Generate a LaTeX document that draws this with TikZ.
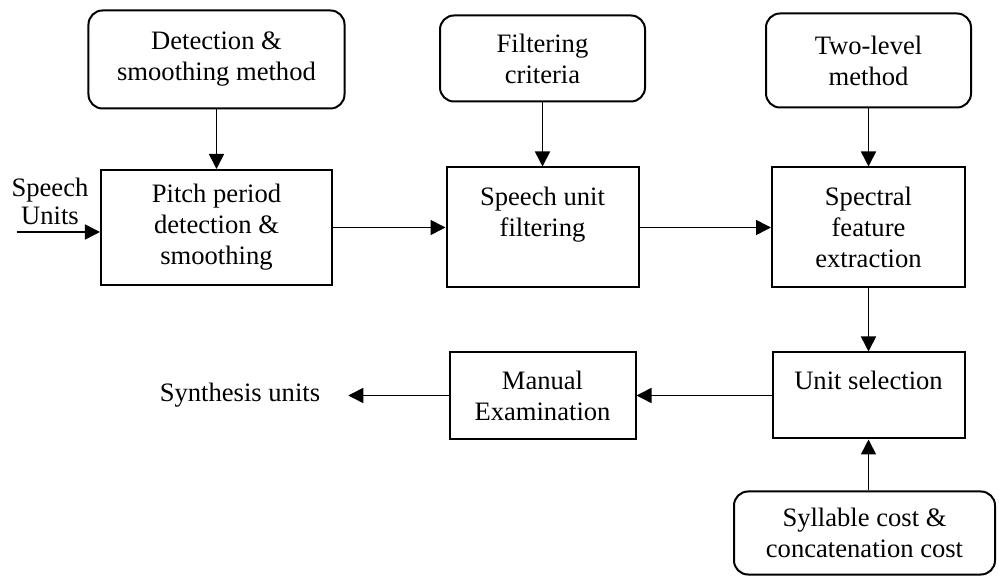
\documentclass[tikz,border=0pt]{standalone}
\usepackage{fontspec}
\setmainfont{Liberation Serif}
\usepackage{tikz}
\usetikzlibrary{arrows.meta}
\tikzstyle{block} = [rectangle, line width=1pt, draw=black, align=center, inner sep=2pt, font=\fontsize{13.3}{15.5}\selectfont]
\tikzstyle{input} = [rectangle, rounded corners=7pt, line width=1pt, draw=black, align=center, inner sep=2pt, font=\fontsize{13.3}{15.5}\selectfont]
\tikzstyle{plain} = [align=center, font=\fontsize{13.3}{14}\selectfont]
\tikzstyle{arrow} = [line width=0.8pt,->,>={Triangle[length=7.5pt,width=7.5pt]}]

\begin{document}
\begin{tikzpicture}[node distance=84pt]
\useasboundingbox (-108.25pt,-174.25pt) rectangle (391.25pt,113.75pt);

\node (pitch) [block, minimum width=115.5pt, minimum height=57.5pt] {Pitch period\\detection \&\\smoothing};
\node (filter) [block, right of=pitch, node distance=163pt, minimum width=96pt, minimum height=60pt] {Speech unit\\filtering\\~};
\node (spectral) [block, right of=filter, node distance=163pt, minimum width=96.5pt, minimum height=60pt] {Spectral\\feature\\extraction};
\node (unitsel) [block, below of=spectral, minimum width=96pt, minimum height=43pt] {Unit selection\\~};
\node (manual) [block, below of=filter, minimum width=93pt, minimum height=43.5pt] {Manual\\Examination};

\node (detect) [input, above of=pitch, minimum width=128pt, minimum height=49pt] {Detection \&\\smoothing method};
\node (criteria) [input, above of=filter, node distance=84.5pt, minimum width=102.5pt, minimum height=43pt] {Filtering\\criteria};
\node (twolevel) [input, above of=spectral, node distance=83.5pt, minimum width=102.5pt, minimum height=47pt] {Two-level\\method};
\node (syllable) [input, below of=unitsel, node distance=68.75pt, xshift=-2pt, minimum width=130.5pt, minimum height=41.5pt] {Syllable cost \&\\concatenation cost};

\node (speech) [plain] at (-83.25pt,13.25pt) {Speech\\Units};
\node (synth) [plain, left of=manual, node distance=151.25pt] {Synthesis units};

% inputs from the top
\draw [arrow] (detect) -- (pitch);
\draw [arrow] (criteria) -- (filter);
\draw [arrow] (twolevel) -- (spectral);

% main chain
\coordinate (in) at (-99.75pt,-2.25pt);
\draw [arrow] (in) -- (in -| pitch.west);
\draw [arrow] (pitch) -- (filter);
\draw [arrow] (filter) -- (spectral);
\draw [arrow] (spectral) -- (unitsel);
\draw [arrow] (syllable.north -| unitsel) -- (unitsel);
\draw [arrow] (unitsel) -- (manual);
\draw [arrow, shorten >=10.5pt] (manual) -- (synth);

\end{tikzpicture}
\end{document}
